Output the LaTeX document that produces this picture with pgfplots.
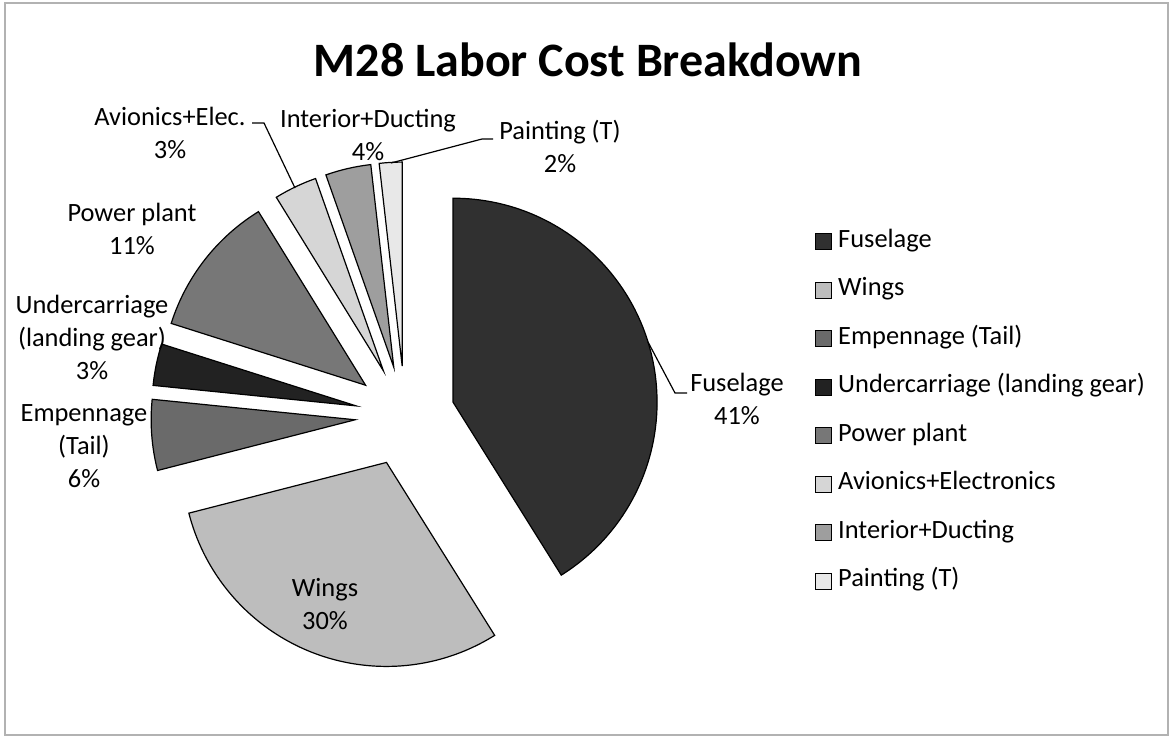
\documentclass[border=0pt]{standalone}
\usepackage{fontspec}
\setmainfont{Carlito}
\usepackage{pgfplots}
\pgfplotsset{compat=1.18}

\definecolor{cFus}{HTML}{303030}
\definecolor{cWing}{HTML}{BDBDBD}
\definecolor{cEmp}{HTML}{6A6A6A}
\definecolor{cUnd}{HTML}{222222}
\definecolor{cPow}{HTML}{777777}
\definecolor{cAvi}{HTML}{D6D6D6}
\definecolor{cInt}{HTML}{9E9E9E}
\definecolor{cPnt}{HTML}{E8E8E8}

\tikzset{lbl/.style={align=center, font=\fontsize{13.2}{16.5}\selectfont}}

% one exploded wedge: #1 start (cumulative %), #2 share (%), #3 colour
% centre (405,416) px, pulled out 50 px, radius 204 px = 102pt
\newcommand{\pieslice}[3]{%
  \filldraw[fill=#3, draw=black, line width=0.6pt]
    (axis cs:{405+50*cos(90-3.6*(#1+#2/2))},{416-50*sin(90-3.6*(#1+#2/2))})
    -- ++({90-3.6*(#1)}:102pt)
    arc[start angle={90-3.6*(#1)}, end angle={90-3.6*(#1+#2)}, radius=102pt]
    -- cycle;
}

\begin{document}
\begin{tikzpicture}
\begin{axis}[
    x=0.5pt, y=0.5pt,
    xmin=0, xmax=1172,
    ymin=0, ymax=738,
    y dir=reverse,
    hide axis,
    clip=false,
    legend cell align=left,
    legend image code/.code={\filldraw[#1] (0pt,-4pt) rectangle (8pt,4pt);},
    legend style={
        at={(axis cs:815,229)}, anchor=north west,
        draw=none, fill=none, inner sep=0pt,
        column sep=3pt, row sep=12.25pt,
        nodes={inner sep=0pt, text height=9pt, text depth=3pt},
        font=\fontsize{13.2}{16}\selectfont
    }
]

% frame
\draw[gray!60, line width=0.6pt] (axis cs:5,3) rectangle (axis cs:1168,735);
\path (axis cs:0,0) rectangle (axis cs:1172,738);

% share of labor cost, %, clockwise from 12 o'clock
\pieslice{0}{41.1}{cFus}
\pieslice{41.1}{29.9}{cWing}
\pieslice{71.0}{5.6}{cEmp}
\pieslice{76.6}{3.3}{cUnd}
\pieslice{79.9}{11.3}{cPow}
\pieslice{91.2}{3.4}{cAvi}
\pieslice{94.6}{3.6}{cInt}
\pieslice{98.2}{1.8}{cPnt}

\addlegendimage{fill=cFus, draw=black}
\addlegendentry{Fuselage}
\addlegendimage{fill=cWing, draw=black}
\addlegendentry{Wings}
\addlegendimage{fill=cEmp, draw=black}
\addlegendentry{Empennage (Tail)}
\addlegendimage{fill=cUnd, draw=black}
\addlegendentry{Undercarriage (landing gear)}
\addlegendimage{fill=cPow, draw=black}
\addlegendentry{Power plant}
\addlegendimage{fill=cAvi, draw=black}
\addlegendentry{Avionics+Electronics}
\addlegendimage{fill=cInt, draw=black}
\addlegendentry{Interior+Ducting}
\addlegendimage{fill=cPnt, draw=black}
\addlegendentry{Painting (T)}

% title
\node[anchor=base, font=\bfseries\fontsize{24}{28}\selectfont]
    at (axis cs:588,76) {M28 Labor Cost Breakdown};

% data labels
\node[lbl] at (axis cs:737,399) {Fuselage\\41\%};
\node[lbl] at (axis cs:325,604) {Wings\\30\%};
\node[lbl] at (axis cs:84,446) {Empennage\\(Tail)\\6\%};
\node[lbl] at (axis cs:92,337) {Undercarriage\\(landing gear)\\3\%};
\node[lbl] at (axis cs:132,229) {Power plant\\11\%};
\node[lbl] at (axis cs:170,133) {Avionics+Elec.\\3\%};
\node[lbl] at (axis cs:368,135) {Interior+Ducting\\4\%};
\node[lbl] at (axis cs:560,146) {Painting (T)\\2\%};

% leader lines
\draw[line width=0.6pt] (axis cs:648,342) -- (axis cs:675,393) -- (axis cs:687,393);
\draw[line width=0.6pt] (axis cs:252,123) -- (axis cs:264,123) -- (axis cs:295,188);
\draw[line width=0.6pt] (axis cs:493,139) -- (axis cs:482,139) -- (axis cs:391,163);

\end{axis}
\end{tikzpicture}
\end{document}
